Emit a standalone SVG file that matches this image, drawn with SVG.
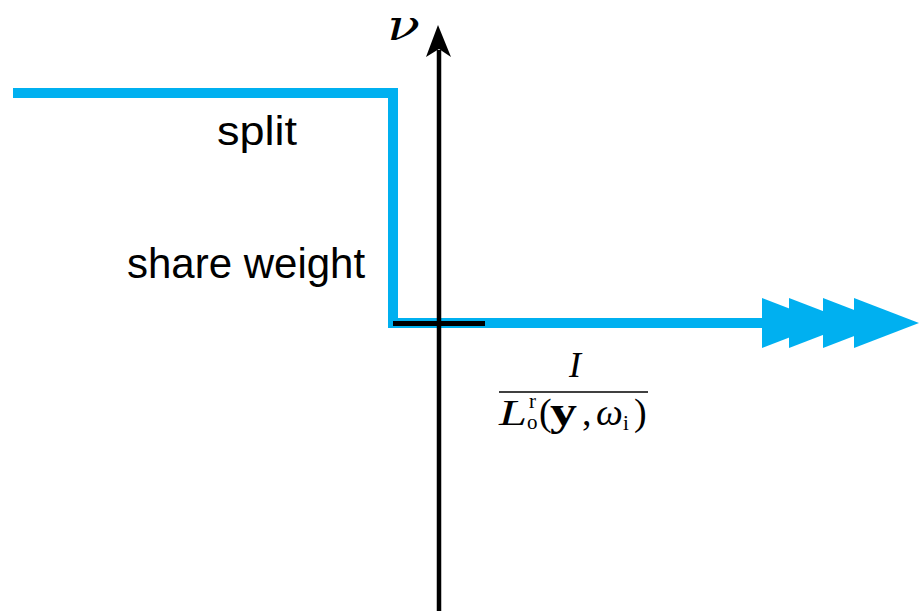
<svg xmlns="http://www.w3.org/2000/svg" width="919" height="611" viewBox="0 0 919 611">
<style>
.blue{fill:none;stroke:#00B0F0;stroke-width:10;stroke-linejoin:miter}
.lbl{font-family:"Liberation Sans",Arial,sans-serif;fill:#000}
.math{font-family:"Liberation Serif","Times New Roman",serif;fill:#000}
.sm{font-size:21px}
</style>
<rect width="919" height="611" fill="#fff"/>
<g id="connectors">
<path class="blue" d="M13 93 H393 V323 H780"/>
<g id="arrowheads" fill="#00B0F0">
<polygon points="762,298 827,323 762,348"/>
<polygon points="789,298 854,323 789,348"/>
<polygon points="823,298 888,323 823,348"/>
<polygon points="854,298 919,323 854,348"/>
</g>
<line x1="393" y1="323.5" x2="485" y2="323.5" stroke="#000" stroke-width="5"/>
<line x1="439" y1="611" x2="439" y2="50" stroke="#000" stroke-width="4.5"/>
<polygon points="438,25 451,57 439,49 426,57" fill="#000"/>
</g>
<g id="nu"><text x="387" y="40" font-family="'DejaVu Serif',serif" font-size="42" font-style="italic" textLength="33" lengthAdjust="spacingAndGlyphs">ν</text></g>
<g id="split"><text class="lbl" x="217" y="145" font-size="40" textLength="80" lengthAdjust="spacingAndGlyphs">split</text></g>
<g id="share"><text class="lbl" x="127" y="278" font-size="42">share weight</text></g>
<g id="fraction">
<text class="math" x="575" y="377" font-size="36" font-style="italic" text-anchor="middle">I</text>
<line x1="499" y1="392" x2="648" y2="392" stroke="#000" stroke-width="1.6"/>
<text class="math" x="499" y="425" font-size="35" font-style="italic" textLength="28" lengthAdjust="spacingAndGlyphs">L</text>
<text class="math sm" x="529" y="408">r</text>
<text class="math sm" x="527" y="429">o</text>
<text class="math" x="539" y="425" font-size="38">(</text>
<text class="math" x="550" y="425" font-size="40" font-weight="bold" textLength="27" lengthAdjust="spacingAndGlyphs">y</text>
<text class="math" x="582" y="425" font-size="38">,</text>
<text class="math" x="596" y="425" font-size="38" font-style="italic">ω</text>
<text class="math sm" x="623" y="430">i</text>
<text class="math" x="634" y="425" font-size="38">)</text>
</g>
</svg>
